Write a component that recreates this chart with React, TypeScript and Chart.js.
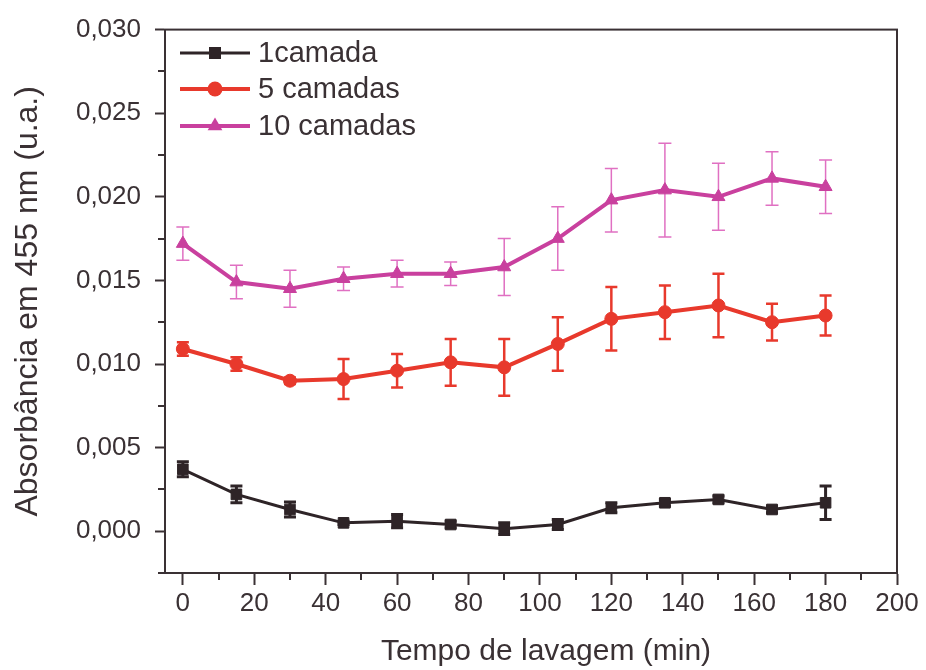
import React, { useEffect, useRef } from 'react';
import { Chart, registerables } from 'chart.js';

Chart.register(...registerables);

// ---- data ----
const times = [0, 15, 30, 45, 60, 75, 90, 105, 120, 135, 150, 165, 180];
const seriesNames = ['1camada', '5 camadas', '10 camadas'];
const abs1 = [0.0037, 0.0022, 0.0013, 0.0005, 0.0006, 0.0004, 0.00015, 0.0004, 0.0014, 0.0017, 0.0019, 0.0013, 0.0017];
const err1 = [0.00045, 0.0005, 0.00045, 0.0001, 0.0004, 0.0002, 0.00035, 0.0003, 0.0003, 0.0002, 0.0002, 0.0002, 0.001];
const abs5 = [0.0109, 0.01, 0.009, 0.0091, 0.0096, 0.0101, 0.0098, 0.0112, 0.0127, 0.0131, 0.0135, 0.0125, 0.0129];
const err5 = [0.0004, 0.0004, 0.0002, 0.0012, 0.001, 0.0014, 0.0017, 0.0016, 0.0019, 0.0016, 0.0019, 0.0011, 0.0012];
const abs10 = [0.0172, 0.0149, 0.0145, 0.0151, 0.0154, 0.0154, 0.0158, 0.0175, 0.0198, 0.0204, 0.02, 0.0211, 0.0206];
const err10 = [0.001, 0.001, 0.0011, 0.0007, 0.0008, 0.0007, 0.0017, 0.0019, 0.0019, 0.0028, 0.002, 0.0016, 0.0016];

const xTicks = [0, 20, 40, 60, 80, 100, 120, 140, 160, 180, 200];
const xMinorTicks = [10, 30, 50, 70, 90, 110, 130, 150, 170, 190];
const yTicks = [0, 0.005, 0.01, 0.015, 0.02, 0.025, 0.03];
const yMinorTicks = [-0.0025, 0.0025, 0.0075, 0.0125, 0.0175, 0.0225, 0.0275];

const xTitle = 'Tempo de lavagem (min)';
const yTitle = 'Absorbância em 455 nm (u.a.)';

// ---- styles ----
const FONT = '"Liberation Sans", Arial, Helvetica, sans-serif';
const TEXT = '#3a3134';
const AXIS = '#3a3134';
const BLACK = '#2e2427';
const RED = '#e8392c';
const MAGENTA = '#c9409e';
const MAGENTA_ERR = '#e070c2';

const seriesValues = [abs1, abs5, abs10];
const seriesErrors = [err1, err5, err10];
const seriesColors = [BLACK, RED, MAGENTA];
const errColors = [BLACK, RED, MAGENTA_ERR];
const errWidths = [3, 2.5, 1.5];
const capHalf = [6, 6, 6.5];
const pointStyles = ['rect', 'circle', 'triangle'];
const pointRadii = [7.5, 6.5, 7.5];
const lineWidths = [3, 4, 4];

function drawMarker(ctx: CanvasRenderingContext2D, style: string, x: number, y: number, r: number, color: string) {
  ctx.save();
  ctx.fillStyle = color;
  ctx.beginPath();
  if (style === 'rect') {
    const s = r * Math.SQRT1_2;
    ctx.rect(x - s, y - s, 2 * s, 2 * s);
  } else if (style === 'circle') {
    ctx.arc(x, y, r, 0, Math.PI * 2);
  } else {
    let a = 0;
    ctx.moveTo(x + Math.sin(a) * r, y - Math.cos(a) * r);
    a += (2 * Math.PI) / 3;
    ctx.lineTo(x + Math.sin(a) * r, y - Math.cos(a) * r);
    a += (2 * Math.PI) / 3;
    ctx.lineTo(x + Math.sin(a) * r, y - Math.cos(a) * r);
    ctx.closePath();
  }
  ctx.fill();
  ctx.restore();
}

const extrasPlugin = {
  id: 'extras',
  beforeDatasetsDraw(chart: any) {
    const ctx: CanvasRenderingContext2D = chart.ctx;
    const xs = chart.scales.x;
    const ys = chart.scales.y;
    seriesValues.forEach((vals, si) => {
      const errs = seriesErrors[si];
      ctx.save();
      ctx.strokeStyle = errColors[si];
      ctx.lineWidth = errWidths[si];
      ctx.lineCap = 'butt';
      vals.forEach((v, i) => {
        const px = xs.getPixelForValue(times[i]);
        const yt = ys.getPixelForValue(v + errs[i]);
        const yb = ys.getPixelForValue(v - errs[i]);
        ctx.beginPath();
        ctx.moveTo(px, yt);
        ctx.lineTo(px, yb);
        ctx.moveTo(px - capHalf[si], yt);
        ctx.lineTo(px + capHalf[si], yt);
        ctx.moveTo(px - capHalf[si], yb);
        ctx.lineTo(px + capHalf[si], yb);
        ctx.stroke();
      });
      ctx.restore();
    });
  },
  afterDraw(chart: any) {
    const ctx: CanvasRenderingContext2D = chart.ctx;
    const { left, right, top, bottom } = chart.chartArea;
    const xs = chart.scales.x;
    const ys = chart.scales.y;
    ctx.save();
    // frame
    ctx.strokeStyle = AXIS;
    ctx.lineWidth = 2;
    ctx.strokeRect(left, top, right - left, bottom - top);
    // minor ticks
    ctx.beginPath();
    xMinorTicks.forEach((t) => {
      const px = Math.round(xs.getPixelForValue(t));
      ctx.moveTo(px, bottom);
      ctx.lineTo(px, bottom + 7);
    });
    yMinorTicks.forEach((t) => {
      const py = Math.round(ys.getPixelForValue(t));
      ctx.moveTo(left, py);
      ctx.lineTo(left - 7, py);
    });
    ctx.stroke();
    // x axis title
    ctx.fillStyle = TEXT;
    ctx.font = `30px ${FONT}`;
    ctx.textAlign = 'center';
    ctx.textBaseline = 'middle';
    ctx.fillText(xTitle, 546, 652);
    // legend
    const rowY = [53, 89, 126];
    seriesNames.forEach((name, si) => {
      const y = rowY[si];
      ctx.strokeStyle = seriesColors[si];
      ctx.lineWidth = lineWidths[si];
      ctx.beginPath();
      ctx.moveTo(180, y);
      ctx.lineTo(250, y);
      ctx.stroke();
      drawMarker(ctx, pointStyles[si], 215, y, pointRadii[si] + 1, seriesColors[si]);
      ctx.fillStyle = TEXT;
      ctx.font = `29px ${FONT}`;
      ctx.textBaseline = 'middle';
      ctx.textAlign = 'left';
      ctx.fillText(name, 258, y + 1);
    });
    ctx.restore();
  },
};

export default function App() {
  const ref = useRef<HTMLCanvasElement>(null);

  useEffect(() => {
    const canvas = ref.current;
    if (!canvas) return;
    const datasets = seriesNames.map((name, si) => ({
      label: name,
      data: times.map((t, i) => ({ x: t, y: seriesValues[si][i] })),
      borderColor: seriesColors[si],
      backgroundColor: seriesColors[si],
      borderWidth: lineWidths[si],
      pointStyle: pointStyles[si],
      pointRadius: pointRadii[si],
      pointBackgroundColor: seriesColors[si],
      pointBorderColor: seriesColors[si],
      pointBorderWidth: 1,
      tension: 0,
      fill: false,
    }));

    const chart = new Chart(canvas, {
      type: 'line',
      data: { datasets },
      plugins: [extrasPlugin],
      options: {
        responsive: false,
        animation: false,
        layout: { padding: { left: 0, top: 27, right: 29, bottom: 0 } },
        plugins: { legend: { display: false }, tooltip: { enabled: false } },
        scales: {
          x: {
            type: 'linear',
            min: -5,
            max: 200,
            afterBuildTicks: (s: any) => {
              s.ticks = xTicks.map((v) => ({ value: v }));
            },
            afterFit: (s: any) => {
              s.height = 97;
            },
            ticks: {
              font: { family: FONT, size: 26 },
              color: TEXT,
              padding: 3,
              autoSkip: false,
              maxRotation: 0,
              callback: (v: any) => String(v),
            },
            grid: { drawOnChartArea: false, tickLength: 12, tickWidth: 2, tickColor: AXIS },
            border: { display: true, width: 2, color: AXIS },
            title: { display: false, text: xTitle },
          },
          y: {
            type: 'linear',
            min: -0.0025,
            max: 0.03,
            afterBuildTicks: (s: any) => {
              s.ticks = yTicks.map((v) => ({ value: v }));
            },
            afterFit: (s: any) => {
              s.width = 165;
            },
            ticks: {
              font: { family: FONT, size: 26 },
              color: TEXT,
              padding: 14,
              callback: (v: any) => Number(v).toFixed(3).replace('.', ','),
            },
            grid: { drawOnChartArea: false, tickLength: 10, tickWidth: 2, tickColor: AXIS },
            border: { display: true, width: 2, color: AXIS },
            title: {
              display: true,
              text: yTitle,
              font: { family: FONT, size: 32 },
              color: TEXT,
              padding: { top: 9, bottom: 0 },
            },
          },
        },
      },
    } as any);
    return () => chart.destroy();
  }, []);

  return (
    <div style={{ position: 'absolute', left: 0, top: 0, width: 926, height: 670, background: '#fff' }}>
      <canvas ref={ref} width={926} height={670} />
    </div>
  );
}
